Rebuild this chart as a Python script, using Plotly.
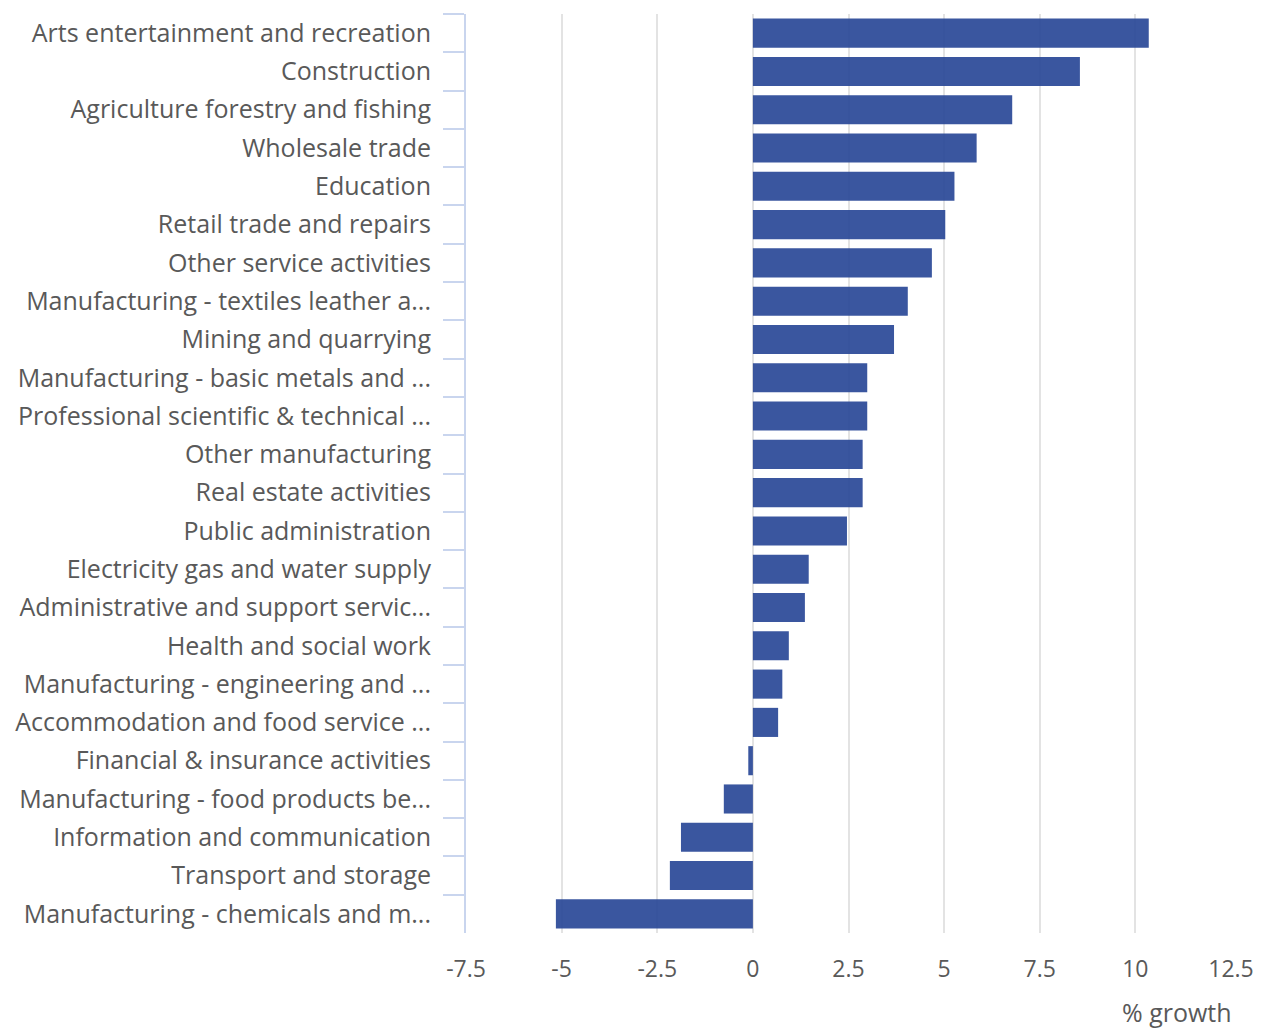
import plotly.graph_objects as go

categories = [
    "Arts entertainment and recreation",
    "Construction",
    "Agriculture forestry and fishing",
    "Wholesale trade",
    "Education",
    "Retail trade and repairs",
    "Other service activities",
    "Manufacturing - textiles leather a...",
    "Mining and quarrying",
    "Manufacturing - basic metals and ...",
    "Professional scientific & technical ...",
    "Other manufacturing",
    "Real estate activities",
    "Public administration",
    "Electricity gas and water supply",
    "Administrative and support servic...",
    "Health and social work",
    "Manufacturing - engineering and ...",
    "Accommodation and food service ...",
    "Financial & insurance activities",
    "Manufacturing - food products be...",
    "Information and communication",
    "Transport and storage",
    "Manufacturing - chemicals and m...",
]
growth = [10.35, 8.55, 6.78, 5.85, 5.27, 5.03, 4.68, 4.05, 3.69, 2.99, 2.99, 2.87,
          2.87, 2.46, 1.46, 1.36, 0.94, 0.77, 0.66, -0.12, -0.76, -1.88, -2.17, -5.15]

x_ticks = [-7.5, -5, -2.5, 0, 2.5, 5, 7.5, 10, 12.5]
x_title = "% growth"

fig = go.Figure(go.Bar(
    x=growth, y=categories, orientation="h",
    marker=dict(color="rgba(37,68,149,0.9)", line=dict(width=0)),
    hoverinfo="x+y",
))

fig.update_layout(
    width=1266, height=1030,
    margin=dict(l=466, r=31, t=14, b=97),
    paper_bgcolor="white", plot_bgcolor="white",
    font=dict(family="Open Sans", size=24, color="#595959"),
    bargap=0.24,
    showlegend=False,
    annotations=[dict(text=x_title, xref="paper", yref="paper", x=1.0, y=0,
                      xanchor="right", yanchor="top", yshift=-60, xshift=3,
                      showarrow=False,
                      font=dict(family="Open Sans", size=25, color="#595959"))],
)
fig.update_xaxes(
    range=[-7.5, 12.5], tickvals=x_ticks, ticktext=[f"{v:g}" for v in x_ticks],
    showgrid=True, gridcolor="#e3e3e3", gridwidth=2, zeroline=False,
    showline=False, ticks="", ticklabelstandoff=20,
    tickfont=dict(size=23, color="#595959"),
)
fig.update_yaxes(
    type="category", categoryorder="array", categoryarray=categories,
    autorange="reversed",
    showline=True, linecolor="#c9d5ee", linewidth=2,
    ticks="outside", tickson="boundaries", ticklen=21, tickwidth=2, tickcolor="#c9d5ee",
    ticklabelstandoff=28, showgrid=False,
    tickfont=dict(size=25, color="#595959"),
)

fig.write_html("out.html")
